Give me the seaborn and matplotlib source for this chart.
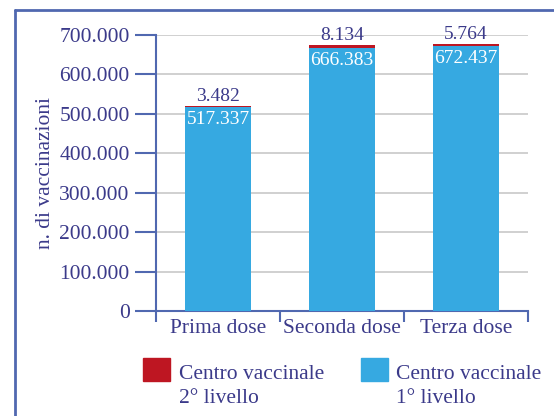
import matplotlib
matplotlib.use("Agg")
import matplotlib.pyplot as plt
from matplotlib.lines import Line2D
from matplotlib.patches import Patch, Rectangle
from matplotlib.legend_handler import HandlerPatch
import seaborn as sns
import pandas as pd
import numpy as np

# dati
dosi = ["Prima dose", "Seconda dose", "Terza dose"]
primo_livello = [517337, 666383, 672437]
secondo_livello = [3482, 8134, 5764]
y_ticks = [0, 100000, 200000, 300000, 400000, 500000, 600000, 700000]

BLU = "#36a9e1"
ROSSO = "#be1622"
TESTO = "#3b3a8a"
LINEA = "#5068b0"


def fmt(v):
    return f"{v:,}".replace(",", ".")


def quadrato_in_alto(legend, orig_handle, xdescent, ydescent, width, height, fontsize):
    # il quadratino sta all'altezza della prima riga del testo
    return Rectangle((-xdescent, -ydescent + 0.8 * fontsize), width, height)


df = pd.DataFrame({"dose": dosi, "primo": primo_livello, "secondo": secondo_livello})
df["totale"] = df["primo"] + df["secondo"]

sns.set_style("white")
plt.rcParams["font.family"] = ["Liberation Serif", "DejaVu Serif"]
plt.rcParams["text.color"] = TESTO

fig = plt.figure(figsize=(5.54, 4.16), dpi=100)
ax = fig.add_axes([156 / 554, 1 - 311 / 416, 372 / 554, 276 / 416])

# barre impilate: totale in rosso, 1° livello in blu sopra
sns.barplot(data=df, x="dose", y="totale", color=ROSSO, width=0.53,
            saturation=1, linewidth=0, ax=ax, zorder=2)
sns.barplot(data=df, x="dose", y="primo", color=BLU, width=0.53,
            saturation=1, linewidth=0, ax=ax, zorder=3)

for i, row in df.iterrows():
    ax.annotate(fmt(row["secondo"]), (i, row["totale"]), xytext=(0, 0.5),
                textcoords="offset points", ha="center", va="bottom",
                fontsize=14, color=TESTO, zorder=5)
    ax.annotate(fmt(row["primo"]), (i, row["primo"]), xytext=(0, -3),
                textcoords="offset points", ha="center", va="top",
                fontsize=14, color="white", zorder=5)

ax.set_xlim(-0.5, 2.5)
ax.set_ylim(0, 700000)
ax.set_yticks(y_ticks)
ax.set_yticklabels([fmt(v) for v in y_ticks])
ax.set_xticks(range(len(dosi)))
ax.set_xticklabels(dosi)
ax.set_xticks([-0.5, 0.5, 1.5, 2.5], minor=True)

ax.yaxis.grid(True, color="#c8c8c8", lw=1.2, zorder=0)
ax.set_axisbelow(True)
for s in ["top", "right"]:
    ax.spines[s].set_visible(False)
for s in ["left", "bottom"]:
    ax.spines[s].set_color(LINEA)
    ax.spines[s].set_linewidth(1.5)

ax.tick_params(axis="y", direction="out", length=15, width=1.5, color=LINEA,
               labelsize=15.5, labelcolor=TESTO, pad=4, left=True)
ax.tick_params(axis="x", which="major", length=0, labelsize=15.5,
               labelcolor=TESTO, pad=6)
ax.tick_params(axis="x", which="minor", direction="out", length=8,
               width=1.5, color=LINEA, bottom=True)

ax.set_xlabel("")
ax.set_ylabel("n. di vaccinazioni", fontsize=15.5, color=TESTO)
ax.yaxis.set_label_coords(-0.272, 0.5)

handles = [Patch(color=ROSSO), Patch(color=BLU)]
labels = ["Centro vaccinale\n2° livello", "Centro vaccinale\n1° livello"]
leg = fig.legend(handles, labels, loc="upper left",
                 bbox_to_anchor=(124 / 554, 1 - 346 / 416),
                 ncol=2, frameon=False, fontsize=15.5, handlelength=1.25,
                 handleheight=1.25, handletextpad=0.4, columnspacing=1.7,
                 labelcolor=TESTO,
                 handler_map={Patch: HandlerPatch(patch_func=quadrato_in_alto)})
for t in leg.get_texts():
    t.set_linespacing(1.35)

# cornice
fig.add_artist(Line2D([15 / 554, 15 / 554], [0, 1 - 10 / 416],
                      transform=fig.transFigure, color=LINEA, lw=2))
fig.add_artist(Line2D([15 / 554, 1], [1 - 10 / 416, 1 - 10 / 416],
                      transform=fig.transFigure, color=LINEA, lw=2))

fig.savefig("out.png", dpi=100)
